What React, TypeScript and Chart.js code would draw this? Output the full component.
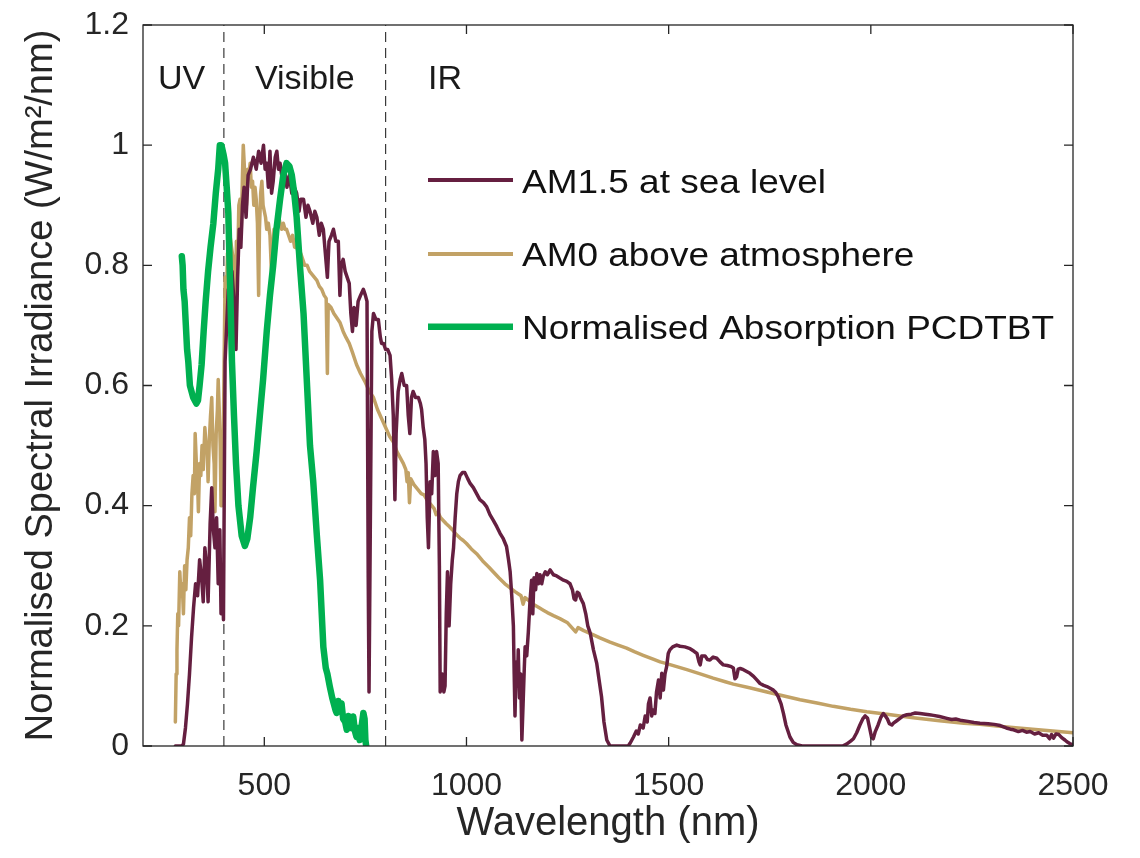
import React, { useEffect, useRef } from "react";
import { Chart, registerables } from "chart.js";

Chart.register(...registerables);

// ---------- DATA ----------
const am15Wl = [280, 295, 300, 305, 310, 315, 320, 325, 330, 335, 340, 345, 349, 353, 357, 361, 366, 370, 374, 378, 382, 386, 390, 393, 396, 399, 403, 407, 411, 415, 420, 425, 430, 434, 438, 442, 446, 450, 455, 460, 466, 473, 480, 486, 492, 498, 502, 506, 510, 514, 518, 522, 527, 531, 535, 539, 545, 550, 556, 562, 568, 574, 580, 586, 590, 597, 603, 608, 613, 620, 625, 630, 636, 641, 646, 651, 656, 660, 666, 671, 677, 683, 687, 690, 695, 700, 705, 710, 714, 718, 722, 727, 732, 738, 745, 750, 754, 757, 759, 762, 766, 770, 776, 782, 787, 790, 795, 800, 805, 811, 815, 819, 823, 826, 831, 836, 840, 846, 852, 856, 860, 864, 868, 874, 881, 886, 889, 893, 897, 900, 903, 906, 910, 914, 918, 922, 926, 930, 933, 935, 940, 944, 947, 950, 953, 957, 961, 965, 968, 972, 976, 980, 984, 990, 996, 1003, 1009, 1017, 1025, 1033, 1042, 1050, 1058, 1066, 1075, 1083, 1091, 1099, 1104, 1108, 1112, 1116, 1118, 1120, 1123, 1126, 1128, 1131, 1134, 1137, 1140, 1143, 1145, 1149, 1153, 1157, 1161, 1164, 1167, 1171, 1174, 1178, 1182, 1186, 1190, 1195, 1200, 1207, 1215, 1223, 1230, 1240, 1248, 1256, 1262, 1266, 1270, 1274, 1278, 1283, 1289, 1295, 1300, 1306, 1314, 1322, 1328, 1334, 1340, 1347, 1355, 1400, 1405, 1413, 1420, 1425, 1430, 1437, 1442, 1447, 1450, 1454, 1458, 1462, 1466, 1470, 1475, 1479, 1483, 1487, 1491, 1495, 1499, 1503, 1510, 1520, 1528, 1540, 1553, 1562, 1570, 1575, 1578, 1582, 1590, 1596, 1602, 1610, 1619, 1627, 1635, 1645, 1655, 1660, 1664, 1668, 1672, 1677, 1685, 1693, 1701, 1710, 1718, 1726, 1735, 1743, 1751, 1759, 1765, 1771, 1778, 1784, 1790, 1795, 1800, 1808, 1817, 1830, 1930, 1940, 1950, 1957, 1965, 1973, 1980, 1986, 1992, 1997, 2002, 2006, 2011, 2018, 2025, 2031, 2036, 2041, 2046, 2052, 2056, 2064, 2072, 2080, 2089, 2100, 2110, 2122, 2135, 2145, 2155, 2170, 2188, 2200, 2210, 2221, 2240, 2255, 2270, 2290, 2305, 2320, 2335, 2345, 2353, 2365, 2375, 2385, 2394, 2405, 2415, 2425, 2435, 2442, 2447, 2452, 2458, 2465, 2472, 2480, 2485, 2492, 2500];
const am15Val = [0, 0, 0.003, 0.03, 0.07, 0.12, 0.18, 0.23, 0.27, 0.25, 0.31, 0.28, 0.24, 0.33, 0.3, 0.24, 0.37, 0.43, 0.36, 0.33, 0.38, 0.27, 0.36, 0.22, 0.3, 0.21, 0.64, 0.7, 0.76, 0.73, 0.79, 0.74, 0.66, 0.78, 0.86, 0.83, 0.9, 0.93, 0.88, 0.95, 0.96, 0.98, 0.96, 0.99, 0.97, 1.0, 0.96, 0.97, 0.93, 0.99, 0.92, 0.94, 0.98, 0.99, 0.96, 0.97, 0.94, 0.96, 0.93, 0.95, 0.92, 0.93, 0.92, 0.89, 0.91, 0.91, 0.88, 0.9, 0.89, 0.87, 0.89, 0.88, 0.85, 0.87, 0.86, 0.82, 0.78, 0.84, 0.85, 0.86, 0.84, 0.84, 0.75, 0.8, 0.81, 0.79, 0.78, 0.77, 0.72, 0.69, 0.73, 0.7, 0.74, 0.75, 0.76, 0.75, 0.74, 0.28, 0.09, 0.35, 0.69, 0.72, 0.71, 0.71, 0.68, 0.67, 0.67, 0.66, 0.66, 0.65, 0.61, 0.55, 0.41, 0.52, 0.59, 0.61, 0.62, 0.6, 0.6, 0.55, 0.52, 0.58, 0.59, 0.58, 0.58, 0.57, 0.56, 0.53, 0.51, 0.47, 0.38, 0.33, 0.44, 0.42, 0.49, 0.45, 0.49, 0.47, 0.3, 0.09, 0.12, 0.09, 0.1, 0.22, 0.29, 0.2, 0.27, 0.31, 0.33, 0.38, 0.42, 0.44, 0.45, 0.455, 0.455, 0.445, 0.437, 0.43, 0.42, 0.41, 0.405, 0.398, 0.385, 0.376, 0.365, 0.354, 0.345, 0.332, 0.31, 0.29, 0.25, 0.2, 0.12, 0.05, 0.14, 0.1, 0.16, 0.08, 0.12, 0.01, 0.07, 0.13, 0.165, 0.15, 0.19, 0.24, 0.276, 0.22, 0.28, 0.26, 0.287, 0.27, 0.285, 0.27, 0.283, 0.29, 0.285, 0.293, 0.285, 0.283, 0.28, 0.276, 0.274, 0.27, 0.26, 0.245, 0.243, 0.256, 0.254, 0.245, 0.237, 0.22, 0.2, 0.188, 0.16, 0.138, 0.11, 0.082, 0.04, 0.01, 0, 0, 0.005, 0.015, 0.025, 0.02, 0.035, 0.03, 0.05, 0.04, 0.07, 0.08, 0.05, 0.06, 0.054, 0.09, 0.11, 0.08, 0.121, 0.093, 0.12, 0.132, 0.154, 0.16, 0.165, 0.168, 0.166, 0.165, 0.162, 0.158, 0.154, 0.14, 0.135, 0.15, 0.15, 0.144, 0.143, 0.148, 0.146, 0.14, 0.135, 0.134, 0.132, 0.13, 0.112, 0.115, 0.128, 0.129, 0.127, 0.124, 0.121, 0.116, 0.11, 0.104, 0.101, 0.099, 0.096, 0.093, 0.089, 0.082, 0.07, 0.054, 0.035, 0.025, 0.015, 0.006, 0.002, 0, 0, 0.003, 0.008, 0.012, 0.022, 0.035, 0.045, 0.05, 0.046, 0.03, 0.014, 0.012, 0.024, 0.035, 0.048, 0.054, 0.05, 0.045, 0.037, 0.035, 0.038, 0.042, 0.046, 0.05, 0.052, 0.053, 0.055, 0.054, 0.053, 0.052, 0.051, 0.049, 0.046, 0.044, 0.045, 0.043, 0.041, 0.039, 0.038, 0.037, 0.036, 0.034, 0.03, 0.028, 0.027, 0.024, 0.026, 0.023, 0.024, 0.02, 0.022, 0.018, 0.018, 0.012, 0.019, 0.013, 0.02, 0.019, 0.014, 0.01, 0.007, 0.004, 0.002];

const am0Wl = [280, 282, 284, 286, 288, 291, 294, 297, 300, 303, 306, 309, 312, 315, 318, 321, 324, 327, 329, 332, 335, 337, 340, 343, 346, 349, 353, 356, 359, 361, 364, 367, 370, 373, 376, 378, 381, 384, 386, 389, 391, 393, 395, 397, 400, 403, 406, 409, 412, 415, 419, 423, 426, 428, 431, 434, 437, 440, 443, 446, 448, 451, 454, 456, 459, 462, 465, 468, 471, 474, 477, 480, 483, 486, 488, 491, 494, 497, 500, 503, 506, 510, 514, 517, 519, 521, 524, 528, 532, 536, 539, 543, 547, 551, 555, 560, 565, 570, 575, 580, 585, 590, 595, 600, 606, 612, 618, 624, 630, 636, 642, 648, 653, 656, 658, 665, 672, 680, 687, 695, 702, 710, 718, 728, 738, 750, 760, 770, 780, 790, 800, 810, 820, 828, 836, 844, 850, 853, 856, 859, 862, 866, 870, 876, 882, 888, 895, 902, 908, 914, 920, 925, 930, 936, 943, 950, 958, 965, 975, 984, 992, 1000, 1012, 1025, 1040, 1055, 1066, 1080, 1095, 1108, 1120, 1135, 1140, 1145, 1149, 1165, 1180, 1190, 1200, 1215, 1231, 1250, 1270, 1276, 1290, 1314, 1330, 1355, 1375, 1396, 1415, 1437, 1460, 1479, 1495, 1520, 1545, 1578, 1610, 1640, 1660, 1700, 1743, 1780, 1825, 1870, 1907, 1950, 1990, 2040, 2072, 2105, 2170, 2230, 2270, 2330, 2400, 2450, 2500];
const am0Val = [0.04, 0.12, 0.16, 0.22, 0.2, 0.29, 0.25, 0.27, 0.22, 0.3, 0.26, 0.31, 0.33, 0.38, 0.35, 0.42, 0.45, 0.42, 0.52, 0.47, 0.44, 0.39, 0.47, 0.45, 0.5, 0.46, 0.53, 0.5, 0.49, 0.44, 0.51, 0.55, 0.58, 0.5, 0.47, 0.39, 0.52, 0.56, 0.61, 0.55, 0.5, 0.4, 0.5, 0.43, 0.6, 0.78, 0.74, 0.82, 0.8, 0.85, 0.83, 0.81, 0.78, 0.72, 0.84, 0.8, 0.9, 0.91, 0.86, 0.95, 1.0, 0.96, 0.94, 0.9, 0.96, 0.95, 0.97, 0.93, 0.94, 0.9, 0.93, 0.91, 0.87, 0.75, 0.86, 0.92, 0.94, 0.9, 0.89, 0.88, 0.86, 0.87, 0.85, 0.8, 0.78, 0.82, 0.86, 0.84, 0.87, 0.88, 0.87, 0.86, 0.87, 0.86, 0.86, 0.85, 0.84, 0.85, 0.83, 0.83, 0.82, 0.82, 0.81, 0.8, 0.8, 0.79, 0.785, 0.78, 0.775, 0.765, 0.76, 0.75, 0.745, 0.62, 0.735, 0.73, 0.72, 0.712, 0.705, 0.69, 0.68, 0.67, 0.655, 0.635, 0.62, 0.605, 0.59, 0.58, 0.56, 0.545, 0.53, 0.515, 0.505, 0.49, 0.48, 0.47, 0.46, 0.44, 0.455, 0.405, 0.445, 0.44, 0.435, 0.43, 0.425, 0.42, 0.418, 0.41, 0.405, 0.4, 0.395, 0.385, 0.388, 0.38, 0.375, 0.37, 0.365, 0.36, 0.352, 0.346, 0.342, 0.337, 0.328, 0.32, 0.308, 0.298, 0.29, 0.28, 0.27, 0.263, 0.257, 0.25, 0.236, 0.247, 0.245, 0.236, 0.23, 0.226, 0.222, 0.217, 0.212, 0.205, 0.19, 0.197, 0.192, 0.185, 0.18, 0.173, 0.168, 0.163, 0.157, 0.151, 0.145, 0.14, 0.137, 0.132, 0.127, 0.12, 0.113, 0.107, 0.103, 0.097, 0.09, 0.084, 0.077, 0.071, 0.066, 0.061, 0.057, 0.053, 0.05, 0.047, 0.042, 0.038, 0.036, 0.032, 0.028, 0.025, 0.022];

const pcdtbtWl = [296, 298, 300, 303, 306, 309, 312, 316, 320, 324, 328, 332, 336, 340, 345, 350, 355, 361, 367, 374, 380, 386, 390, 394, 399, 403, 407, 411, 415, 420, 425, 430, 436, 444, 452, 458, 465, 472, 481, 489, 497, 506, 514, 522, 530, 539, 547, 555, 562, 568, 574, 580, 588, 597, 605, 613, 621, 630, 638, 646, 652, 656, 662, 668, 672, 676, 679, 683, 687, 691, 695, 700, 704, 708, 712, 716, 720, 724, 728, 732, 736, 740, 745, 748, 750, 752];
const pcdtbtVal = [0.815, 0.8, 0.76, 0.74, 0.7, 0.66, 0.64, 0.6, 0.59, 0.58, 0.575, 0.57, 0.575, 0.6, 0.635, 0.69, 0.74, 0.79, 0.83, 0.87, 0.92, 0.96, 1.0, 1.0, 0.985, 0.97, 0.93, 0.887, 0.78, 0.64, 0.55, 0.47, 0.4, 0.35, 0.333, 0.345, 0.38, 0.43, 0.49, 0.55, 0.61, 0.69, 0.75, 0.8, 0.86, 0.91, 0.95, 0.97, 0.965, 0.95, 0.92, 0.88, 0.8, 0.72, 0.61, 0.5, 0.44, 0.35, 0.276, 0.165, 0.13, 0.12, 0.099, 0.08, 0.07, 0.06, 0.055, 0.075, 0.06, 0.071, 0.045, 0.04, 0.027, 0.05, 0.035, 0.03, 0.049, 0.025, 0.015, 0.03, 0.01, 0.03, 0.055, 0.045, 0.01, 0.0];

const seriesNames = ["AM1.5 at sea level", "AM0 above atmosphere", "Normalised Absorption PCDTBT"];
const seriesColors = ["#651f40", "#c2a266", "#00b050"];
const seriesWidths = [3.5, 3.5, 6.5];

const regionBoundaries = [400, 800];
const regionLabels = ["UV", "Visible", "IR"];
const regionLabelX = [237, 477, 905];
const regionLabelY = 1.109;

const xTicks = [500, 1000, 1500, 2000, 2500];
const yTicks = [0, 0.2, 0.4, 0.6, 0.8, 1, 1.2];

const xTitle = "Wavelength (nm)";
const yTitle = "Normalised Spectral Irradiance (W/m\u00B2/nm)";

// ---------- STYLE ----------
const FONT = "'Liberation Sans', Arial, Helvetica, sans-serif";
const TEXT = "#262626";

const toPoints = (xs: number[], ys: number[]) => xs.map((x, i) => ({ x, y: ys[i] }));

const decorPlugin = {
  id: "matlabDecor",
  afterDatasetsDraw(chart: any) {
    const { ctx, chartArea: a, scales } = chart;
    const sx = scales.x;
    const sy = scales.y;
    ctx.save();
    // box
    ctx.strokeStyle = TEXT;
    ctx.lineWidth = 1.3;
    ctx.strokeRect(a.left, a.top, a.right - a.left, a.bottom - a.top);
    // inward ticks
    const tl = 9;
    ctx.beginPath();
    xTicks.forEach((v) => {
      const px = sx.getPixelForValue(v);
      ctx.moveTo(px, a.bottom);
      ctx.lineTo(px, a.bottom - tl);
      ctx.moveTo(px, a.top);
      ctx.lineTo(px, a.top + tl);
    });
    yTicks.forEach((v) => {
      const py = sy.getPixelForValue(v);
      ctx.moveTo(a.left, py);
      ctx.lineTo(a.left + tl, py);
      ctx.moveTo(a.right, py);
      ctx.lineTo(a.right - tl, py);
    });
    ctx.stroke();

    // region labels
    ctx.fillStyle = "#1a1a1a";
    ctx.font = `34px ${FONT}`;
    ctx.textBaseline = "middle";
    ctx.textAlign = "left";
    regionLabels.forEach((t, i) => {
      ctx.fillText(t, sx.getPixelForValue(regionLabelX[i]), sy.getPixelForValue(regionLabelY));
    });

    // legend
    const lx0 = a.left + 285;
    const lx1 = a.left + 370;
    const tx = a.left + 379;
    const lineY = [a.top + 155, a.top + 229, a.top + 301.7];
    const textY = [a.top + 159, a.top + 232, a.top + 304.5];
    ctx.font = `33px ${FONT}`;
    seriesNames.forEach((name, i) => {
      ctx.strokeStyle = seriesColors[i];
      ctx.lineWidth = i === 2 ? 6.5 : 4;
      ctx.beginPath();
      ctx.moveTo(lx0, lineY[i]);
      ctx.lineTo(lx1, lineY[i]);
      ctx.stroke();
      ctx.save();
      ctx.translate(tx, textY[i]);
      ctx.scale(1.12, 1);
      ctx.fillStyle = "#111";
      ctx.fillText(name, 0, 0);
      ctx.restore();
    });
    ctx.restore();
  },
};

export default function App() {
  const ref = useRef<HTMLCanvasElement | null>(null);

  useEffect(() => {
    if (!ref.current) return;
    const seriesData = [
      toPoints(am15Wl, am15Val),
      toPoints(am0Wl, am0Val),
      toPoints(pcdtbtWl, pcdtbtVal),
    ];
    const datasets: any[] = seriesData.map((d, i) => ({
      label: seriesNames[i],
      data: d,
      borderColor: seriesColors[i],
      backgroundColor: seriesColors[i],
      borderWidth: seriesWidths[i],
      pointRadius: 0,
      tension: 0,
      borderJoinStyle: "round",
      borderCapStyle: "round",
      order: i === 2 ? 0 : i === 0 ? 1 : 2,
    }));
    regionBoundaries.forEach((b) => {
      datasets.push({
        label: "boundary",
        data: [
          { x: b, y: 0 },
          { x: b, y: 1.2 },
        ],
        borderColor: "#3a3a3a",
        borderWidth: 1.2,
        borderDash: [10, 6],
        pointRadius: 0,
        order: 3,
      });
    });

    const chart = new Chart(ref.current, {
      type: "line",
      data: { datasets },
      plugins: [decorPlugin],
      options: {
        animation: false,
        responsive: false,
        devicePixelRatio: 1,
        layout: { padding: { left: 0, right: 67, top: 25, bottom: 0 } },
        plugins: { legend: { display: false }, tooltip: { enabled: false } },
        scales: {
          x: {
            type: "linear",
            min: 200,
            max: 2500,
            afterBuildTicks: (s: any) => {
              s.ticks = xTicks.map((v) => ({ value: v }));
            },
            afterFit: (s: any) => {
              s.height = 112;
              s.paddingLeft = 0;
              s.paddingRight = 0;
            },
            grid: { display: false, drawTicks: false },
            border: { display: false },
            ticks: {
              color: TEXT,
              font: { family: FONT, size: 32 },
              padding: 21,
              maxRotation: 0,
              autoSkip: false,
              callback: (v: any) => String(v),
            },
            title: {
              display: true,
              text: xTitle,
              color: TEXT,
              font: { family: FONT, size: 40 },
              padding: { top: 0, bottom: 10 },
            },
          },
          y: {
            type: "linear",
            min: 0,
            max: 1.2,
            afterBuildTicks: (s: any) => {
              s.ticks = yTicks.map((v) => ({ value: v }));
            },
            afterFit: (s: any) => {
              s.width = 143;
              s.paddingTop = 0;
              s.paddingBottom = 0;
            },
            grid: { display: false, drawTicks: false },
            border: { display: false },
            ticks: {
              color: TEXT,
              font: { family: FONT, size: 32 },
              padding: 14,
              autoSkip: false,
              callback: (v: any) => String(Number(Number(v).toFixed(1))),
            },
            title: {
              display: true,
              text: yTitle,
              color: TEXT,
              font: { family: FONT, size: 38 },
              padding: { top: 19, bottom: 0 },
            },
          },
        },
      },
    });
    return () => chart.destroy();
  }, []);

  return (
    <div style={{ position: "fixed", left: 0, top: 0, width: 1140, height: 858, background: "#fff" }}>
      <canvas ref={ref} width={1140} height={858} style={{ display: "block" }} />
    </div>
  );
}
